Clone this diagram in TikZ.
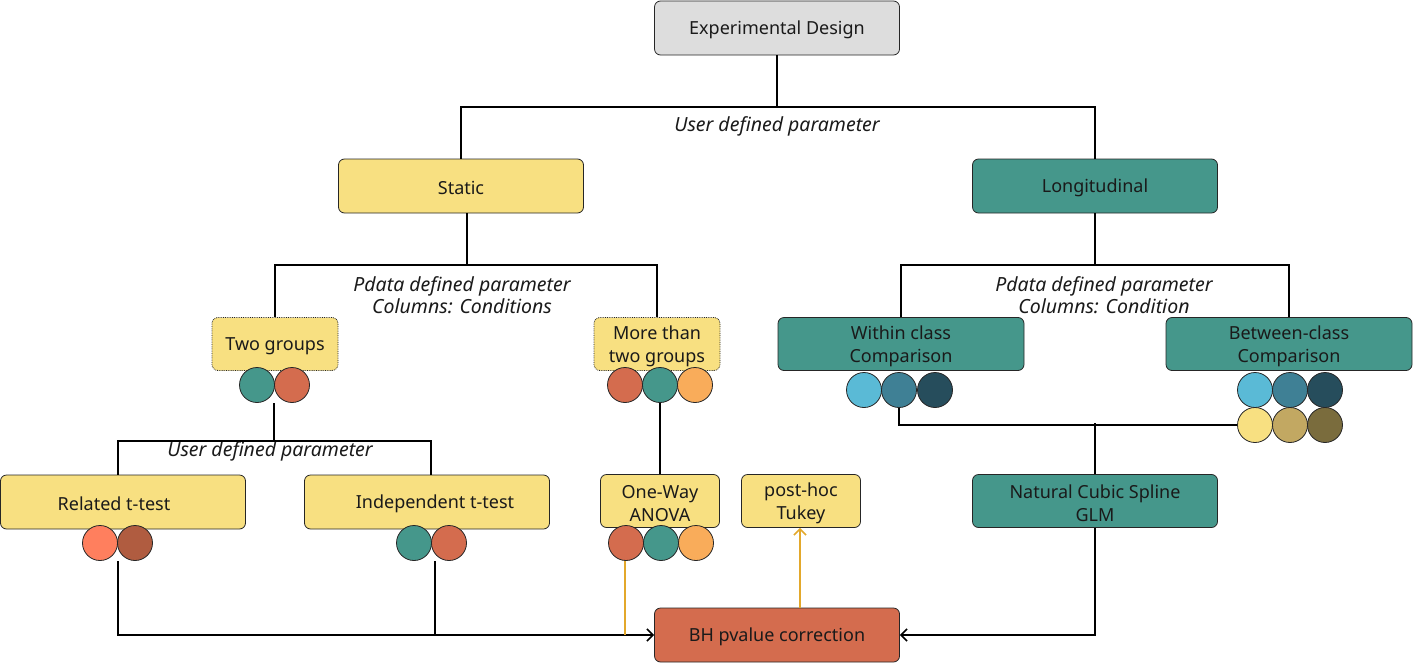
\documentclass[tikz,border=0pt]{standalone}
\usepackage{fontspec}
\setmainfont{Noto Sans}
\usetikzlibrary{arrows.meta}
\definecolor{txt}{HTML}{1A1A1A}
\definecolor{grayfill}{HTML}{DDDDDD}
\definecolor{yel}{HTML}{F8E081}
\definecolor{teal}{HTML}{45978B}
\definecolor{bhred}{HTML}{D46C4E}
\definecolor{corange}{HTML}{F9AC5A}
\definecolor{csalmon}{HTML}{FF7F5E}
\definecolor{cbrown}{HTML}{B05C40}
\definecolor{clblue}{HTML}{5ABAD6}
\definecolor{cmblue}{HTML}{3F8095}
\definecolor{cdblue}{HTML}{264D5C}
\definecolor{ctan}{HTML}{C2A862}
\definecolor{colive}{HTML}{7A6C3D}
\definecolor{oline}{HTML}{E3A82B}
\newcommand\mystrut{\rule{0pt}{17.5pt}}
\begin{document}
\begin{tikzpicture}[x=1pt,y=-1pt,
  box/.style={draw=black!85, line width=0.8pt, rounded corners=6pt, minimum width=245pt, minimum height=54pt, align=center, text=txt, font=\fontsize{18}{23}\selectfont, inner sep=2pt, execute at begin node={\rule{0pt}{16.5pt}}},
  smallbox/.style={box, minimum width=119pt, minimum height=53pt},
  dotbox/.style={smallbox, densely dotted, minimum width=126pt},
  dot/.style={circle, draw=black!85, line width=0.8pt, minimum size=35pt, inner sep=0pt},
  conn/.style={line width=2pt, draw=black},
  oconn/.style={line width=1.6pt, draw=oline},
  tip/.style={-{Straight Barb[length=6pt,width=12pt,line width=1.6pt]}},
  lbl/.style={font=\fontsize{19.5}{22}\selectfont\itshape, text=txt, align=center, inner sep=0pt}
]
\useasboundingbox (0,0) rectangle (1413,664);

% nodes
\node[box, fill=grayfill] (exp) at (777,28) {Experimental Design};
\node[box, fill=yel] (static) at (461,186) {Static};
\node[box, fill=teal] (long) at (1095,186) {Longitudinal};
\node[dotbox, fill=yel] (two) at (275,344) {Two groups};
\node[dotbox, fill=yel] (more) at (657,344) {\mystrut More than\\two groups};
\node[box, fill=teal, minimum width=246pt, minimum height=53pt] (within) at (901,344) {\mystrut Within class\\Comparison};
\node[box, fill=teal, minimum width=246pt, minimum height=53pt] (between) at (1289,344) {\mystrut Between-class\\Comparison};
\node[box, fill=yel] (rel) at (123,502) {\hspace*{-18pt}Related t-test};
\node[box, fill=yel] (ind) at (427,502) {\hspace*{16pt}Independent t-test};
\node[smallbox, fill=yel] (anova) at (660,501) {\mystrut One-Way\\ANOVA};
\node[smallbox, fill=yel] (tukey) at (801,501) {\mystrut post-hoc\\Tukey};
\node[box, fill=teal, minimum height=53pt] (ncs) at (1095,501) {\mystrut Natural Cubic Spline\\GLM};
\node[box, fill=bhred] (bh) at (777,635) {BH pvalue correction};

% labels
\node[lbl] (l1) at (777,126) {User defined parameter};
\node[lbl] (l2) at (462,295) {Pdata defined parameter\\Columns: Conditions};
\node[lbl] (l3) at (1104,295) {Pdata defined parameter\\Columns: Condition};
\node[lbl] (l4) at (270,451) {User defined parameter};

% connectors (drawn before circles)
\coordinate (j1) at (777,107);
\draw[conn] (exp.south) -- (j1);
\draw[conn] (static.north) -- (static.north |- j1) -- (long.north |- j1) -- (long.north);

\coordinate (j2) at (467,265);
\draw[conn] (static.south -| j2) -- (j2);
\draw[conn] (two.north) -- (two.north |- j2) -- (more.north |- j2) -- (more.north);

\coordinate (j3) at (1095,265);
\draw[conn] (long.south) -- (j3);
\draw[conn] (within.north) -- (within.north |- j3) -- (between.north |- j3) -- (between.north);

% circles
\node[dot, fill=teal] (t1) at (257,385) {};
\node[dot, fill=bhred] (t2) at (292,385) {};
\node[dot, fill=bhred] (m1) at (625,385) {};
\node[dot, fill=teal] (m2) at (660,385) {};
\node[dot, fill=corange] (m3) at (695,385) {};
\node[dot, fill=clblue] (w1) at (864,390) {};
\node[dot, fill=cmblue] (w2) at (899,390) {};
\node[dot, fill=cdblue] (w3) at (935,390) {};
\node[dot, fill=clblue] (b1) at (1255,390) {};
\node[dot, fill=cmblue] (b2) at (1290,390) {};
\node[dot, fill=cdblue] (b3) at (1325,390) {};
\node[dot, fill=yel] (b4) at (1255,425) {};
\node[dot, fill=ctan] (b5) at (1290,425) {};
\node[dot, fill=colive] (b6) at (1325,425) {};
\node[dot, fill=csalmon] (r1) at (100,543) {};
\node[dot, fill=cbrown] (r2) at (135,543) {};
\node[dot, fill=teal] (i1) at (414,543) {};
\node[dot, fill=bhred] (i2) at (449,543) {};
\node[dot, fill=bhred] (a1) at (626,543) {};
\node[dot, fill=teal] (a2) at (661,543) {};
\node[dot, fill=corange] (a3) at (696,543) {};

% lower connectors
\coordinate (j4) at (274,441);
\draw[conn] (274,403) coordinate (tgc) -- (j4);
\draw[conn] (rel.north -| 118,0) -- (118,441) -- (431,441) -- (ind.north -| 431,0);
\draw[conn] (m2.south) -- (anova.north);

\draw[conn, tip] (118,561) coordinate (rc) |- (bh.west);
\draw[conn] (435,561) coordinate (ic) -- (435,635);
\draw[oconn] (625,561) coordinate (ac) -- (625,635);
\draw[oconn, tip] (bh.north -| 800,0) -- (tukey.south -| 800,0);

\draw[conn] (w2.south) |- (b4.west);
\draw[conn] (ncs.north) -- (ncs.north |- 0,423);
\draw[conn, tip] (ncs.south) |- (bh.east);
\end{tikzpicture}
\end{document}
